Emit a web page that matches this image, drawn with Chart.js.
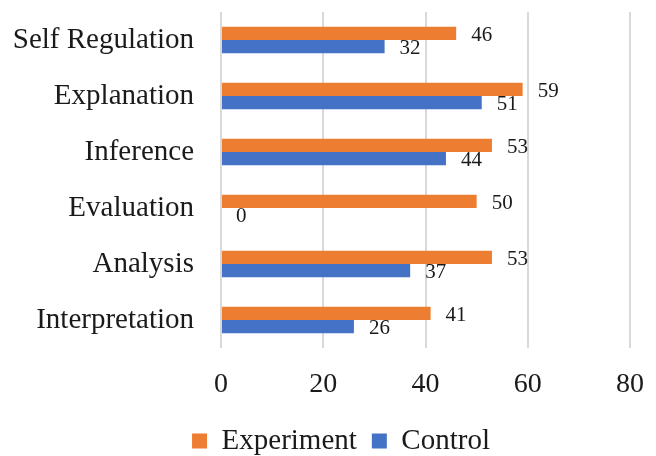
<!DOCTYPE html>
<html>
<head>
<meta charset="utf-8">
<script src="https://cdn.jsdelivr.net/npm/chart.js@4/dist/chart.umd.min.js"></script>
<style>
  html, body { margin: 0; padding: 0; background: #ffffff; }
  #wrap { width: 656px; height: 456px; position: relative; }
</style>
</head>
<body>
<div id="wrap"><canvas id="chart" width="656" height="456"></canvas></div>
<script>
const categories = ['Self Regulation', 'Explanation', 'Inference', 'Evaluation', 'Analysis', 'Interpretation'];
const experimentScores = [46, 59, 53, 50, 53, 41];
const controlScores = [32, 51, 44, 0, 37, 26];
const xTicks = [0, 20, 40, 60, 80];

const FONT = '"Liberation Serif", "DejaVu Serif", serif';
const TEXT_COLOR = '#1a1a1a';

// Writes each bar's value just past the end of the bar
const valueLabels = {
  id: 'valueLabels',
  afterDatasetsDraw(chart) {
    const ctx = chart.ctx;
    ctx.save();
    ctx.font = '21px ' + FONT;
    ctx.fillStyle = TEXT_COLOR;
    ctx.textAlign = 'left';
    ctx.textBaseline = 'middle';
    chart.data.datasets.forEach((ds, i) => {
      const meta = chart.getDatasetMeta(i);
      meta.data.forEach((bar, j) => {
        ctx.fillText(String(ds.data[j]), bar.x + 15, bar.y + 2);
      });
    });
    ctx.restore();
  }
};

// Centres the legend under the plotting area rather than the whole canvas
const legendOffset = {
  id: 'legendOffset',
  afterLayout(chart) {
    const shift = 26;
    chart.legend.left += shift;
    chart.legend.right += shift;
  }
};

new Chart(document.getElementById('chart'), {
  type: 'bar',
  data: {
    labels: categories,
    datasets: [
      { label: 'Experiment', data: experimentScores, backgroundColor: '#ED7D31' },
      { label: 'Control', data: controlScores, backgroundColor: '#4472C4' }
    ]
  },
  options: {
    indexAxis: 'y',
    responsive: false,
    animation: false,
    devicePixelRatio: 1,
    layout: { padding: { top: 12, right: 26, left: 0, bottom: -9.5 } },
    datasets: { bar: { categoryPercentage: 0.47, barPercentage: 1.0 } },
    scales: {
      x: {
        min: 0, max: 80,
        afterBuildTicks(scale) { scale.ticks = xTicks.map(v => ({ value: v })); },
        afterFit(scale) {
          scale.height = 63.5;
          scale.paddingLeft = 0;
          scale.paddingRight = 0;
        },
        grid: { color: '#d9d9d9', lineWidth: 2, drawTicks: false },
        border: { display: false },
        ticks: { padding: 20, color: TEXT_COLOR, font: { family: FONT, size: 28 } }
      },
      y: {
        afterFit(scale) {
          scale.width = 221;
          scale.paddingTop = 0;
          scale.paddingBottom = 0;
        },
        grid: { display: false, drawTicks: false },
        border: { display: false },
        ticks: { padding: 27, color: TEXT_COLOR, font: { family: FONT, size: 29 } }
      }
    },
    plugins: {
      legend: {
        position: 'bottom',
        labels: {
          boxWidth: 15, boxHeight: 15, padding: 15,
          color: TEXT_COLOR,
          font: { family: FONT, size: 29 }
        }
      },
      tooltip: { enabled: false }
    }
  },
  plugins: [valueLabels, legendOffset]
});
</script>
</body>
</html>
